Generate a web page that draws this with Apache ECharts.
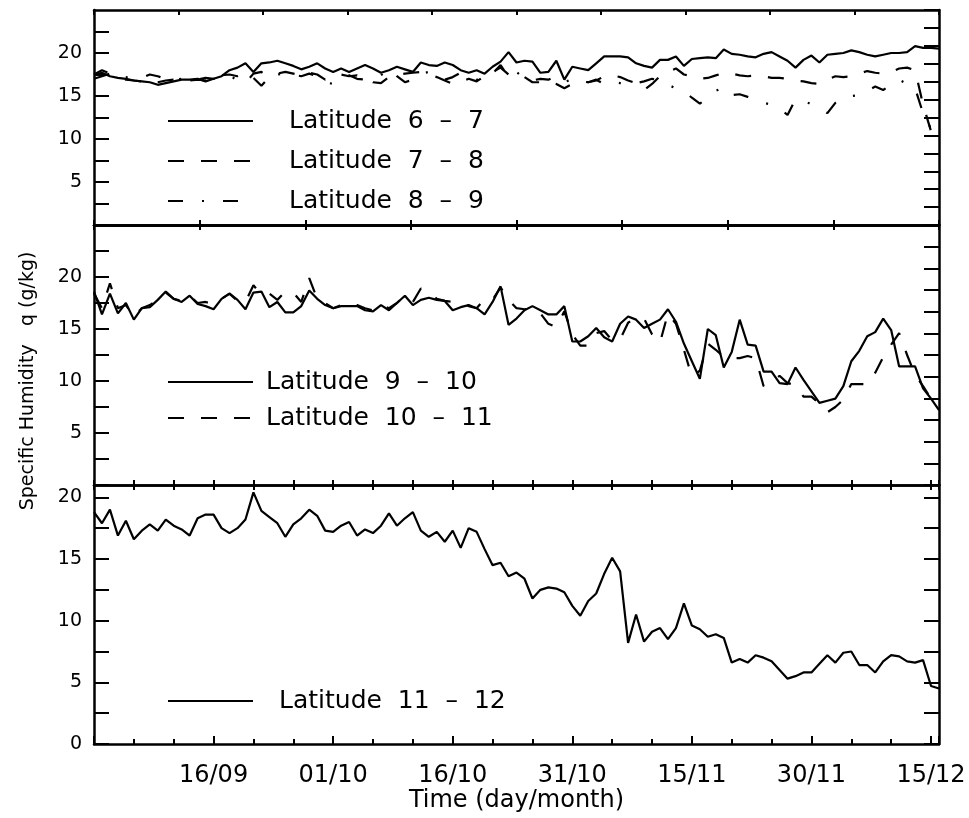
<!DOCTYPE html>
<html>
<head>
<meta charset="utf-8">
<title>Specific humidity by latitude band</title>
<script src="https://cdn.jsdelivr.net/npm/echarts@6/dist/echarts.min.js"></script>
<style>
  html, body { margin: 0; padding: 0; background: #fff; }
  #chart { width: 969px; height: 818px; }
</style>
</head>
<body>
<div id="chart"></div>
<script>
// daily values, first point = 01/09, x = days since 01/09
const xTickDays = [15, 30, 45, 60, 75, 90, 105]
const xTickLabels = ['16/09', '01/10', '16/10', '31/10', '15/11', '30/11', '15/12']

// top panel
const lat67 = [17.4, 17.7, 17.3, 17.1, 17.0, 16.8, 16.7, 16.6, 16.3, 16.5, 16.7, 16.9, 16.9, 17.0, 16.7, 17.0,
  17.3, 18.0, 18.3, 18.8, 17.8, 18.8, 18.9, 19.1, 18.8, 18.5, 18.1, 18.4, 18.8, 18.2, 17.8, 18.2, 17.8, 18.2,
  18.6, 18.2, 17.7, 18.0, 18.4, 18.1, 17.8, 18.9, 18.6, 18.5, 18.9, 18.6, 18.0, 17.7, 18.0, 17.6, 18.4, 19.0,
  20.1, 18.9, 19.1, 19.0, 17.7, 17.8, 19.1, 16.9, 18.4, 18.2, 18.0, 18.8, 19.6, 19.6, 19.6, 19.5, 18.8, 18.5,
  18.3, 19.2, 19.2, 19.6, 18.5, 19.3, 19.4, 19.5, 19.4, 20.4, 19.9, 19.8, 19.6, 19.5, 19.9, 20.1, 19.6, 19.1,
  18.3, 19.2, 19.7, 18.9, 19.8, 19.9, 20.0, 20.3, 20.1, 19.8, 19.6, 19.8, 20.0, 20.0, 20.1, 20.8, 20.6, 20.6, 20.5]
const lat78 = [17.0, 17.3, 17.6, 17.2, 16.9, 16.8, 16.7, 16.8, 16.6, 16.8, 16.9, 16.7, 16.8, 16.9, 16.8, 17.0,
  17.4, 17.5, 17.3, 17.6, 17.1, 16.2, 17.2, 17.6, 17.8, 17.6, 17.4, 17.7, 17.5, 16.9, 17.2, 17.5, 17.3, 17.4,
  17.1, 16.6, 16.5, 17.2, 17.5, 17.6, 17.7, 17.8, 17.5, 17.2, 16.8, 16.4, 16.6, 17.0, 16.7, 17.3, 17.8, 18.3,
  17.5, 17.6, 17.2, 16.6, 16.6, 16.7, 16.4, 15.9, 16.4, 16.7, 16.6, 16.8, 17.3, 17.4, 17.2, 16.8, 16.5, 15.7,
  16.4, 17.3, 17.8, 18.2, 17.5, 17.3, 17.0, 17.1, 17.4, 17.7, 17.6, 17.4, 17.3, 17.4, 17.3, 17.1, 17.1, 17.0,
  16.8, 16.7, 16.5, 16.4, 16.9, 17.3, 17.2, 17.3, 17.6, 17.9, 17.7, 17.6, 17.8, 18.2, 18.3, 18.0, 14.0, 10.9, 10.2]
const lat89 = [17.5, 18.0, 17.6, 17.3, 17.2, 17.0, 17.1, 17.5, 17.3, 17.0, 16.9, 17.0, 17.1, 16.9, 17.1, 17.0,
  17.2, 17.4, 16.8, 16.5, 17.6, 17.8, 17.0, 17.5, 17.6, 17.5, 17.3, 17.6, 17.3, 16.6, 16.4, 17.0, 17.4, 17.0,
  16.9, 17.0, 17.4, 18.2, 17.3, 16.6, 16.9, 17.6, 17.8, 17.3, 16.9, 17.2, 17.7, 17.4, 16.9, 17.0, 17.6, 18.6,
  17.2, 17.8, 17.0, 16.8, 17.0, 16.9, 17.3, 16.6, 17.0, 16.8, 16.6, 16.9, 16.4, 16.7, 16.5, 16.4, 16.5, 16.7,
  17.0, 16.8, 16.3, 15.9, 15.6, 14.8, 14.1, 14.9, 15.6, 16.0, 15.1, 15.2, 14.9, 14.6, 14.2, 14.0, 13.5, 12.8,
  14.6, 14.5, 14.0, 13.6, 13.0, 14.2, 14.9, 15.0, 15.1, 15.6, 16.1, 15.7, 16.3, 16.9, 16.4, 15.9, 13.0, 11.2, 10.0]

// middle panel
const lat910 = [18.6, 16.4, 18.4, 16.5, 17.5, 15.9, 17.0, 17.1, 17.8, 18.6, 17.9, 17.6, 18.2, 17.4, 17.2, 16.9,
  17.9, 18.4, 17.8, 16.9, 18.5, 18.6, 17.1, 17.6, 16.6, 16.6, 17.2, 18.7, 17.9, 17.3, 17.0, 17.2, 17.2, 17.2,
  16.8, 16.7, 17.3, 16.8, 17.5, 18.2, 17.3, 17.8, 18.0, 17.8, 17.7, 16.8, 17.1, 17.3, 17.0, 16.4, 17.6, 19.1,
  15.4, 16.0, 16.8, 17.2, 16.8, 16.4, 16.4, 17.2, 13.8, 13.8, 14.3, 15.1, 14.2, 13.8, 15.5, 16.2, 15.9, 15.1,
  15.5, 15.9, 16.9, 15.7, 13.6, 11.9, 10.2, 15.0, 14.4, 11.3, 12.8, 15.9, 13.5, 13.4, 10.9, 10.9, 9.8, 9.7,
  11.3, 10.1, 9.0, 7.9, 8.1, 8.3, 9.5, 11.9, 12.9, 14.3, 14.7, 16.0, 14.9, 11.4, 11.4, 11.4, 9.3, 8.3, 7.2]
const lat1011 = [18.4, 17.0, 19.4, 17.0, 17.3, 16.2, 17.0, 17.3, 17.8, 18.5, 17.9, 17.7, 18.2, 17.5, 17.6, 17.4,
  17.9, 18.4, 17.7, 17.6, 19.2, 18.3, 18.4, 17.8, 18.6, 18.5, 17.6, 19.9, 17.9, 17.5, 17.0, 17.3, 17.5, 17.3,
  17.0, 16.8, 17.3, 17.0, 17.5, 18.2, 17.6, 18.9, 18.6, 17.9, 17.7, 17.6, 17.6, 17.2, 17.0, 17.9, 17.8, 19.0,
  17.8, 17.0, 16.9, 17.0, 16.5, 15.5, 15.2, 16.7, 14.5, 13.4, 13.4, 14.6, 14.8, 13.9, 14.0, 15.6, 16.1, 16.0,
  14.5, 13.7, 16.5, 15.5, 13.0, 10.4, 11.0, 13.6, 13.0, 12.3, 12.2, 12.2, 12.4, 12.2, 9.5, 10.0, 10.5, 9.8,
  9.6, 8.5, 8.5, 7.8, 7.0, 7.5, 8.2, 9.7, 9.7, 9.7, 10.8, 12.3, 13.5, 14.6, 12.5, 10.6, 9.5, 8.3, 8.3]

// bottom panel
const lat1112 = [18.8, 17.9, 19.0, 16.9, 18.1, 16.6, 17.3, 17.8, 17.3, 18.2, 17.7, 17.4, 16.9, 18.3, 18.6, 18.6,
  17.5, 17.1, 17.5, 18.2, 20.4, 18.9, 18.4, 17.9, 16.8, 17.8, 18.3, 19.0, 18.5, 17.3, 17.2, 17.7, 18.0, 16.9,
  17.4, 17.1, 17.7, 18.7, 17.7, 18.3, 18.8, 17.3, 16.8, 17.2, 16.4, 17.3, 15.9, 17.5, 17.2, 15.8, 14.5, 14.7,
  13.6, 13.9, 13.4, 11.8, 12.5, 12.7, 12.6, 12.3, 11.2, 10.4, 11.6, 12.2, 13.8, 15.1, 14.0, 8.2, 10.5, 8.3,
  9.1, 9.4, 8.5, 9.4, 11.4, 9.6, 9.3, 8.7, 8.9, 8.6, 6.6, 6.9, 6.6, 7.2, 7.0, 6.7, 6.0, 5.3, 5.5, 5.8, 5.8,
  6.5, 7.2, 6.6, 7.4, 7.5, 6.4, 6.4, 5.8, 6.7, 7.2, 7.1, 6.7, 6.6, 6.8, 4.7, 4.5]

const chart = echarts.init(document.getElementById('chart'), null, { renderer: 'canvas' })

const labelFont = 'DejaVu Sans'
const dashed = [16, 17]
const dashDot = [15, 19, 2, 19]

const toPoints = arr => arr.map((v, i) => [i, v])

const xLabel = v => {
  const i = xTickDays.indexOf(v)
  return i >= 0 ? xTickLabels[i] : ''
}
const yLabel = (hideZero) => v => {
  if (v % 5 !== 0) return ''
  if (v === 0 && hideZero) return ''
  if (v > 20) return ''
  return String(v)
}

// onZero off, otherwise the mirrored axes jump to the zero line
const axisLine = { show: true, onZero: false, lineStyle: { color: '#000', width: 2.5 } }
const tickLine = { color: '#000', width: 2 }

// an axis that only draws evenly spaced ticks along a frame edge
const frameX = (gridIndex, position, count, len) => ({
  type: 'value', gridIndex, position, min: 0, max: count, interval: 1,
  axisLine, splitLine: { show: false }, axisLabel: { show: false },
  axisTick: { show: true, inside: true, length: len, lineStyle: tickLine }
})
const dataX = (gridIndex, interval, opts) => Object.assign({
  type: 'value', gridIndex, position: 'bottom', min: 0, max: 106, interval,
  axisLine, splitLine: { show: false }, axisLabel: { show: false },
  axisTick: { show: true, inside: true, length: 5, lineStyle: tickLine }
}, opts || {})
const leftY = (gridIndex, max, hideZero) => ({
  type: 'value', gridIndex, position: 'left', min: 0, max, interval: 2.5,
  axisLine, splitLine: { show: false },
  axisTick: { show: true, inside: true, length: 15, lineStyle: tickLine },
  axisLabel: { show: true, formatter: yLabel(hideZero), color: '#000', fontFamily: labelFont, fontSize: 19, margin: 12,
    showMinLabel: true, showMaxLabel: false }
})
const rightY = (gridIndex, max, interval) => ({
  type: 'value', gridIndex, position: 'right', min: 0, max, interval,
  axisLine, splitLine: { show: false }, axisLabel: { show: false },
  axisTick: { show: true, inside: true, length: 15, lineStyle: tickLine }
})

const line = (name, data, xi, yi, type) => ({
  name, type: 'line', data: toPoints(data), xAxisIndex: xi, yAxisIndex: yi,
  symbol: 'none', showSymbol: false, smooth: false, animation: false,
  lineStyle: { color: '#000', width: 2.2, type: type, cap: 'butt' },
  itemStyle: { color: '#000' }
})

const legendBox = (names, top, gap, textPad) => ({
  data: names, orient: 'vertical', left: 167, top, padding: 0,
  itemWidth: 85, itemHeight: 14, itemGap: gap, selectedMode: false,
  itemStyle: { opacity: 0 },
  textStyle: { color: '#000', fontFamily: labelFont, fontSize: 25, lineHeight: 24, padding: [0, 0, 12, textPad] }
})

const option = {
  animation: false,
  backgroundColor: '#fff',
  grid: [
    { left: 94, right: 30, top: 10, height: 215 },
    { left: 94, right: 30, top: 225, height: 260 },
    { left: 94, right: 30, top: 485, height: 259 }
  ],
  xAxis: [
    dataX(0, 5, { axisTick: { show: false } }),
    frameX(0, 'top', 10, 5),
    frameX(0, 'bottom', 8, 5),
    dataX(1, 5),
    frameX(1, 'top', 8, 5),
    dataX(2, 15, {
      name: 'Time (day/month)', nameLocation: 'middle', nameGap: 45,
      nameTextStyle: { color: '#000', fontFamily: labelFont, fontSize: 24 },
      axisTick: { show: true, inside: true, length: 8, lineStyle: tickLine },
      minorTick: { show: true, splitNumber: 3, length: 5, lineStyle: tickLine },
      axisLabel: { show: true, formatter: xLabel, color: '#000', fontFamily: labelFont, fontSize: 24, margin: 20,
        showMinLabel: false, showMaxLabel: false }
    }),
    dataX(2, 5, { position: 'top' })
  ],
  yAxis: [
    leftY(0, 25, true),
    rightY(0, 12, 1),
    leftY(1, 25, true),
    rightY(1, 12, 1),
    leftY(2, 21, false),
    rightY(2, 21, 2.5)
  ],
  legend: [
    legendBox(['Latitude  6  –  7', 'Latitude  7  –  8', 'Latitude  8  –  9'], 103, 4, 31),
    legendBox(['Latitude  9  –  10', 'Latitude  10  –  11'], 364, 0, 8),
    legendBox(['Latitude  11  –  12'], 683, 6, 21)
  ],
  graphic: [
    {
      type: 'text', x: 28, y: 381, rotation: Math.PI / 2,
      style: { text: 'Specific Humidity   q (g/kg)', fill: '#000', font: '19px "DejaVu Sans"',
        align: 'center', verticalAlign: 'middle' }
    }
  ],
  series: [
    line('Latitude  6  –  7', lat67, 0, 0, 'solid'),
    line('Latitude  7  –  8', lat78, 0, 0, dashed),
    line('Latitude  8  –  9', lat89, 0, 0, dashDot),
    line('Latitude  9  –  10', lat910, 3, 2, 'solid'),
    line('Latitude  10  –  11', lat1011, 3, 2, dashed),
    line('Latitude  11  –  12', lat1112, 5, 4, 'solid')
  ]
}

chart.setOption(option)
</script>
</body>
</html>
